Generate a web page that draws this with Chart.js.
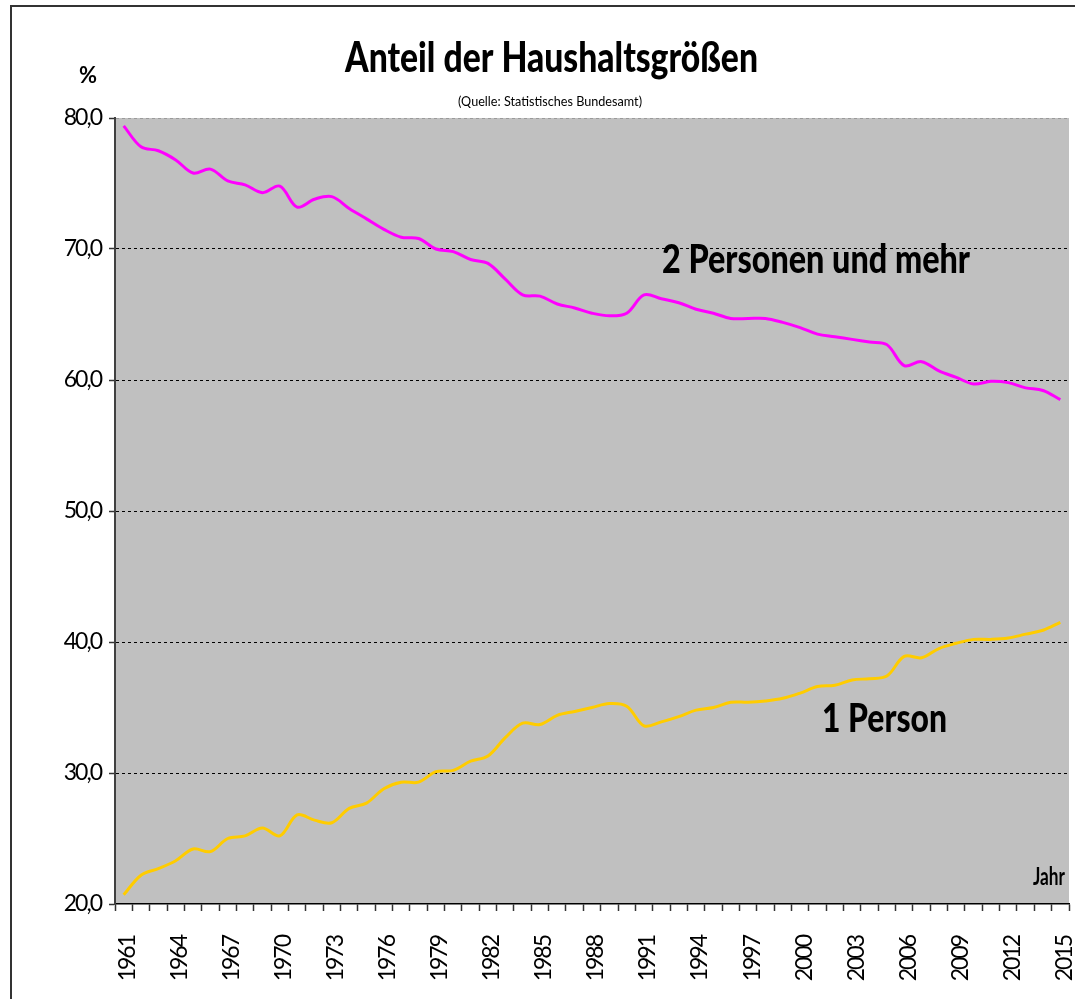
<!DOCTYPE html>
<html>
<head>
<meta charset="utf-8">
<script src="https://cdn.jsdelivr.net/npm/chart.js@4.4.1/dist/chart.umd.min.js"></script>
<style>
  html, body { margin: 0; padding: 0; background: #ffffff; }
  #wrap { width: 1075px; height: 999px; position: relative; }
</style>
</head>
<body>
<div id="wrap"><canvas id="c" width="1075" height="999"></canvas></div>
<script>
const years = ['1961','1962','1963','1964','1965','1966','1967','1968','1969','1970',
  '1971','1972','1973','1974','1975','1976','1977','1978','1979','1980',
  '1981','1982','1983','1984','1985','1986','1987','1988','1989','1990',
  '1991','1992','1993','1994','1995','1996','1997','1998','1999','2000',
  '2001','2002','2003','2004','2005','2006','2007','2008','2009','2010',
  '2011','2012','2013','2014','2015'];

const tickLabels = ['1961','1964','1967','1970','1973','1976','1979','1982','1985',
  '1988','1991','1994','1997','2000','2003','2006','2009','2012','2015'];

const onePerson = [20.7, 22.2, 22.7, 23.3, 24.2, 24.0, 25.0, 25.2, 25.8, 25.2,
  26.8, 26.4, 26.2, 27.3, 27.7, 28.8, 29.3, 29.3, 30.1, 30.2,
  30.9, 31.3, 32.7, 33.8, 33.7, 34.4, 34.7, 35.0, 35.3, 35.1,
  33.6, 33.9, 34.3, 34.8, 35.0, 35.4, 35.4, 35.5, 35.7, 36.1,
  36.6, 36.7, 37.1, 37.2, 37.4, 38.9, 38.8, 39.5, 39.9, 40.2,
  40.2, 40.3, 40.6, 40.9, 41.5];

const twoPlus = [79.4, 77.8, 77.5, 76.8, 75.8, 76.1, 75.2, 74.9, 74.3, 74.8,
  73.2, 73.8, 74.0, 73.1, 72.3, 71.5, 70.9, 70.8, 70.0, 69.8,
  69.2, 68.9, 67.7, 66.5, 66.4, 65.8, 65.5, 65.1, 64.9, 65.1,
  66.5, 66.2, 65.9, 65.4, 65.1, 64.7, 64.7, 64.7, 64.4, 64.0,
  63.5, 63.3, 63.1, 62.9, 62.7, 61.1, 61.4, 60.7, 60.2, 59.7,
  59.9, 59.8, 59.4, 59.2, 58.5];

const yTicks = [20, 30, 40, 50, 60, 70, 80];

const FAMILY = "Lato, 'Open Sans', 'Liberation Sans', sans-serif";

function drawFit(ctx, text, font, x, baseline, width) {
  ctx.save();
  ctx.font = font;
  ctx.letterSpacing = '0px';
  ctx.textAlign = 'left';
  ctx.textBaseline = 'alphabetic';
  const w = ctx.measureText(text).width;
  ctx.translate(x, baseline);
  ctx.scale(width / w, 1);
  ctx.fillStyle = '#000000';
  ctx.fillText(text, 0, 0);
  ctx.restore();
}

const decor = {
  id: 'decor',
  beforeDraw(chart) {
    const { ctx, chartArea: a } = chart;
    ctx.save();
    ctx.fillStyle = '#ffffff';
    ctx.fillRect(0, 0, chart.width, chart.height);
    ctx.fillStyle = '#C0C0C0';
    ctx.fillRect(a.left, a.top, a.right - a.left, a.bottom - a.top);
    ctx.restore();
    ctx.letterSpacing = '-2px';
  },
  afterDraw(chart) {
    const ctx = chart.ctx;
    ctx.save();
    drawFit(ctx, 'Anteil der Haushaltsgrößen', '900 42px ' + FAMILY, 345, 72, 413);
    drawFit(ctx, '(Quelle: Statistisches Bundesamt)', '12.5px ' + FAMILY, 458, 106, 184);
    drawFit(ctx, '%', 'bold 22px ' + FAMILY, 79, 83, 18);
    drawFit(ctx, '2 Personen und mehr', '900 39px ' + FAMILY, 662, 273, 308);
    drawFit(ctx, '1 Person', '900 39px ' + FAMILY, 822, 732, 125);
    drawFit(ctx, 'Jahr', 'bold 24px ' + FAMILY, 1033, 885, 32);
    ctx.strokeStyle = '#333333';
    ctx.lineWidth = 2;
    ctx.strokeRect(11, 6, 1100, 1100);
    ctx.restore();
  }
};

new Chart(document.getElementById('c'), {
  type: 'line',
  data: {
    labels: years,
    datasets: [
      { label: '2 Personen und mehr', data: twoPlus, borderColor: '#FF00FF', borderWidth: 3,
        pointRadius: 0, tension: 0.35, fill: false },
      { label: '1 Person', data: onePerson, borderColor: '#FFCC00', borderWidth: 3,
        pointRadius: 0, tension: 0.35, fill: false }
    ]
  },
  options: {
    responsive: false,
    devicePixelRatio: 1,
    animation: false,
    layout: { padding: { top: 118, right: 6, left: 0, bottom: 0 } },
    plugins: { legend: { display: false }, tooltip: { enabled: false }, title: { display: false } },
    scales: {
      x: {
        type: 'category',
        offset: true,
        afterFit(s) { s.height = 95; s.paddingLeft = 0; s.paddingRight = 0; },
        grid: { display: true, drawOnChartArea: false, offset: true, tickLength: 7,
                tickColor: '#333333', tickWidth: 1.5 },
        border: { display: true, color: '#000000', width: 1.5 },
        ticks: {
          autoSkip: false, minRotation: 90, maxRotation: 90, padding: 25, labelOffset: 4,
          color: '#000000', font: { family: FAMILY, size: 23 },
          callback(val, idx) { return tickLabels.includes(years[idx]) ? years[idx] : ''; }
        }
      },
      y: {
        min: 20, max: 80,
        afterFit(s) { s.width = 115; s.paddingTop = 0; s.paddingBottom = 0; },
        afterBuildTicks(s) { s.ticks = yTicks.map(v => ({ value: v })); },
        grid: {
          color(c) {
            const v = c.tick ? c.tick.value : null;
            if (v === 80) return '#9a9a9a';
            if (v === 20) return 'rgba(0,0,0,0)';
            return '#000000';
          },
          lineWidth: 1, tickLength: 6, tickColor: '#333333', tickWidth: 1.5
        },
        border: { display: true, color: '#404040', width: 2, dash: [3, 3] },
        ticks: {
          padding: 8, color: '#000000', font: { family: FAMILY, size: 23 },
          callback(v) { return v.toFixed(1).replace('.', ','); }
        }
      }
    }
  },
  plugins: [decor]
});
</script>
</body>
</html>
